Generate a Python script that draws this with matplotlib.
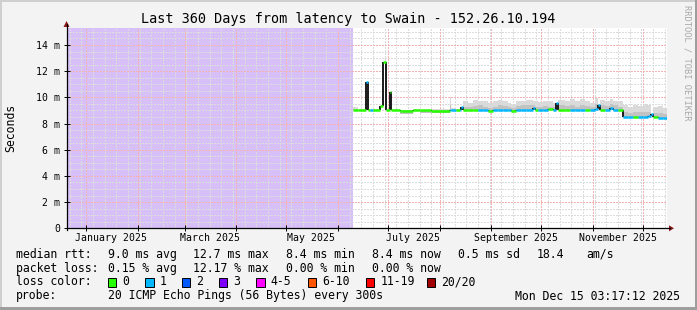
import numpy as np
import pandas as pd
import matplotlib
matplotlib.use('Agg')
import matplotlib.pyplot as plt
import matplotlib.dates as mdates
from matplotlib.collections import LineCollection
from matplotlib.patches import Rectangle, Polygon
from matplotlib.lines import Line2D

# ------------------------------------------------------------
# data (ms)
# ------------------------------------------------------------
end_time = pd.Timestamp('2025-12-15 03:17:12')
start_time = end_time - pd.Timedelta(days=360)
data_start = pd.Timestamp('2025-06-10')

step_dates = ['2025-06-10', '2025-06-13', '2025-06-18', '2025-06-19', '2025-06-20',
              '2025-06-22', '2025-06-26', '2025-06-28', '2025-06-30', '2025-07-02',
              '2025-07-03', '2025-07-08', '2025-07-16', '2025-07-20', '2025-07-27',
              '2025-08-07', '2025-08-08', '2025-08-11', '2025-08-13', '2025-08-14',
              '2025-08-15', '2025-08-18', '2025-08-21', '2025-08-24', '2025-08-27',
              '2025-08-30', '2025-09-02', '2025-09-05', '2025-09-08', '2025-09-11',
              '2025-09-13', '2025-09-16', '2025-09-19', '2025-09-22', '2025-09-26',
              '2025-09-27', '2025-09-29', '2025-10-02', '2025-10-05', '2025-10-08',
              '2025-10-10', '2025-10-11', '2025-10-15', '2025-10-18', '2025-10-21',
              '2025-10-24', '2025-10-27', '2025-10-30', '2025-11-02', '2025-11-04',
              '2025-11-05', '2025-11-08', '2025-11-11', '2025-11-13', '2025-11-16',
              '2025-11-19', '2025-11-22', '2025-11-25', '2025-11-28', '2025-12-01',
              '2025-12-04', '2025-12-06', '2025-12-07', '2025-12-10', '2025-12-13']

median_ms = [9.02, 9.02, 11.2, 9.02, 9.0,
             9.0, 9.36, 12.7, 9.0, 10.4,
             9.0, 8.97, 9.02, 9.0, 8.98,
             9.02, 9.0, 9.0, 9.05, 9.3,
             9.0, 9.0, 9.02, 9.0, 9.0,
             8.95, 9.0, 9.0, 9.02, 9.0,
             8.95, 9.0, 9.02, 9.0, 9.2,
             9.0, 9.0, 9.02, 9.1, 9.0,
             9.6, 9.0, 9.0, 9.02, 9.0,
             9.05, 9.0, 9.02, 9.1, 9.45,
             9.0, 9.05, 9.2, 9.02, 9.0,
             8.5, 8.48, 8.5, 8.48, 8.5,
             8.55, 8.7, 8.5, 8.45, 8.42]

loss_count = [0, 0, 1, 0, 1,
              0, 0, 0, 0, 0,
              0, 0, 0, 0, 0,
              1, 1, 0, 1, 1,
              0, 0, 0, 1, 1,
              0, 1, 1, 1, 1,
              0, 1, 1, 1, 1,
              0, 1, 1, 0, 1,
              1, 0, 0, 1, 1,
              1, 0, 1, 1, 1,
              0, 1, 1, 1, 0,
              1, 1, 0, 1, 1,
              1, 1, 0, 1, 1]

smoke_lo = [8.96, 8.98, 11.2, 8.98, 8.97,
            8.97, 9.36, 12.7, 8.97, 10.4,
            8.97, 8.75, 8.97, 8.8, 8.8,
            8.98, 8.97, 8.97, 9.0, 9.3,
            8.96, 8.96, 8.97, 8.96, 8.96,
            8.92, 8.96, 8.96, 8.97, 8.96,
            8.92, 8.96, 8.97, 8.96, 9.2,
            8.96, 8.96, 8.97, 9.05, 8.96,
            9.6, 8.96, 8.96, 8.97, 8.96,
            9.0, 8.96, 8.97, 9.05, 9.45,
            8.96, 9.0, 9.15, 8.97, 8.96,
            8.46, 8.44, 8.46, 8.44, 8.46,
            8.5, 8.7, 8.46, 8.41, 8.38]

smoke_hi = [9.3, 9.08, 11.2, 9.1, 9.08,
            9.1, 9.36, 12.7, 9.08, 10.4,
            9.08, 9.05, 9.1, 9.06, 9.08,
            10.05, 9.2, 9.15, 9.3, 9.3,
            9.75, 9.6, 9.8, 9.75, 9.7,
            9.55, 9.7, 9.8, 9.75, 9.6,
            9.5, 9.75, 9.7, 9.8, 9.75,
            9.7, 9.65, 9.75, 9.7, 9.6,
            9.6, 9.8, 9.75, 9.9, 9.7,
            9.85, 9.75, 9.6, 9.95, 9.45,
            9.8, 9.7, 9.85, 9.75, 9.7,
            9.45, 9.3, 9.45, 9.35, 9.5,
            9.4, 8.7, 9.3, 9.35, 9.2]

smoke_core = [9.1, 9.04, 11.2, 9.04, 9.03,
              9.03, 9.36, 12.7, 9.03, 10.4,
              9.03, 9.0, 9.04, 9.02, 9.02,
              9.4, 9.05, 9.05, 9.1, 9.3,
              9.3, 9.25, 9.35, 9.4, 9.3,
              9.2, 9.3, 9.45, 9.35, 9.25,
              9.2, 9.35, 9.4, 9.45, 9.4,
              9.3, 9.3, 9.35, 9.3, 9.3,
              9.6, 9.4, 9.35, 9.4, 9.3,
              9.45, 9.35, 9.3, 9.5, 9.45,
              9.4, 9.35, 9.5, 9.4, 9.3,
              8.9, 8.8, 8.9, 8.85, 8.9,
              8.85, 8.7, 8.8, 8.8, 8.7]

loss_labels = ['0', '1', '2', '3', '4-5', '6-10', '11-19', '20/20']
loss_colors = ['#26ff00', '#00b8ff', '#0059ff', '#7e00ff', '#ff00ff', '#ff5500', '#ff0000', '#a10000']

rtt_stats = ['9.0 ms avg', '12.7 ms max', '8.4 ms min', '8.4 ms now', '0.5 ms sd', '18.4', 'am/s']
loss_stats = ['0.15 % avg', '12.17 % max', '0.00 % min', '0.00 % now']

# ------------------------------------------------------------
# figure
# ------------------------------------------------------------
W, H = 697, 310
MONO = 'DejaVu Sans Mono'

fig = plt.figure(figsize=(W / 100, H / 100), dpi=100)
fig.patch.set_facecolor('#f3f3f3')


def fx(px):
    return px / W


def fy(py):
    return 1 - py / H


# 3D frame
fig.add_artist(Rectangle((0, 0), fx(2), 1, transform=fig.transFigure, color='#cfcfcf', lw=0))
fig.add_artist(Rectangle((0, fy(2)), 1, 2 / H, transform=fig.transFigure, color='#cfcfcf', lw=0))
fig.add_artist(Rectangle((fx(W - 2), 0), fx(2), 1, transform=fig.transFigure, color='#9e9e9e', lw=0))
fig.add_artist(Rectangle((0, 0), 1, 3 / H, transform=fig.transFigure, color='#9e9e9e', lw=0))

ax_left, ax_right, ax_top, ax_bot = 66.5, 666.5, 28, 228.3
ax = fig.add_axes([fx(ax_left), fy(ax_bot), (ax_right - ax_left) / W, (ax_bot - ax_top) / H])
ax.set_facecolor('white')
for s in ax.spines.values():
    s.set_visible(False)

x0 = mdates.date2num(start_time)
x1 = mdates.date2num(end_time)
ax.set_xlim(x0, x1)
ax.set_ylim(0, 15.3)

# unknown period
ax.axvspan(x0, mdates.date2num(data_start), color='#d7c0f8', lw=0, zorder=0.5)

# grid (dotted, like rrdtool)
grid_kw = dict(lw=1.0, dashes=(1, 1), zorder=1, antialiased=False)
for d in pd.date_range(start_time.normalize(), end_time, freq='W-SUN'):
    ax.axvline(mdates.date2num(d), color='#dcdcdc', **grid_kw)
for v in np.arange(0.5, 15.3, 0.5):
    if v % 2 != 0:
        ax.axhline(v, color='#dcdcdc', **grid_kw)
months = pd.date_range('2025-01-01', end_time, freq='MS')
for d in months:
    ax.axvline(mdates.date2num(d), color='#f4b4b4', **grid_kw)
for v in range(2, 15, 2):
    ax.axhline(v, color='#f4b4b4', **grid_kw)

# smoke
xs = mdates.date2num(pd.to_datetime(step_dates))
xs_ext = np.append(xs, x1)
lo_ext = np.append(smoke_lo, smoke_lo[-1])
hi_ext = np.append(smoke_hi, smoke_hi[-1])
core_ext = np.append(smoke_core, smoke_core[-1])
ax.fill_between(xs_ext, lo_ext, hi_ext, step='post', color='#dadada', lw=0, zorder=2)
ax.fill_between(xs_ext, lo_ext, core_ext, step='post', color='#c2c2c2', lw=0, zorder=2.1)

# median line coloured by loss
segs, cols = [], []
for i in range(len(xs)):
    segs.append([(xs_ext[i], median_ms[i]), (xs_ext[i + 1], median_ms[i])])
    cols.append(loss_colors[loss_count[i]])
ax.add_collection(LineCollection(segs, colors=cols, linewidths=1.8, zorder=3))
vsegs = [[(xs[i], median_ms[i - 1]), (xs[i], median_ms[i])] for i in range(1, len(xs))]
ax.add_collection(LineCollection(vsegs, colors='#1a1a1a', linewidths=1.4, zorder=2.9))

# ticks
ax.set_xticks(mdates.date2num(months))
ax.set_xticklabels([])
ax.tick_params(axis='x', which='major', length=4, direction='inout', width=0.7, color='black')
lab_months = pd.date_range('2025-01-01', end_time, freq='2MS') + pd.Timedelta(days=15)
ax.set_xticks(mdates.date2num(lab_months), minor=True)
ax.set_xticklabels([d.strftime('%B %Y') for d in lab_months], minor=True,
                   fontsize=7.1, family=MONO)
ax.tick_params(axis='x', which='minor', length=0, pad=3.5)

yt = list(range(0, 15, 2))
ax.set_yticks(yt)
ax.set_yticklabels(['0'] + [f'{v} m' for v in yt[1:]], fontsize=7.1, family=MONO)
ax.tick_params(axis='y', length=4, direction='inout', width=0.7, color='black', pad=2.5)

# axes with arrows
fig.add_artist(Line2D([fx(ax_left), fx(670)], [fy(ax_bot), fy(ax_bot)], transform=fig.transFigure,
                      color='black', lw=0.9))
fig.add_artist(Line2D([fx(ax_left), fx(ax_left)], [fy(ax_bot + 2), fy(24)], transform=fig.transFigure,
                      color='black', lw=0.9))
fig.add_artist(Polygon([(fx(669), fy(ax_bot - 3)), (fx(669), fy(ax_bot + 3)), (fx(674), fy(ax_bot))],
                       transform=fig.transFigure, color='#8b1a1a', lw=0))
fig.add_artist(Polygon([(fx(ax_left - 3), fy(27)), (fx(ax_left + 3), fy(27)), (fx(ax_left), fy(21))],
                       transform=fig.transFigure, color='#8b1a1a', lw=0))

# titles
fig.text(fx(348), fy(19.3), 'Last 360 Days from latency to Swain - 152.26.10.194',
         ha='center', va='center', fontsize=9.75, family=MONO)
fig.text(fx(10.3), fy(127.6), 'Seconds', rotation=90, ha='center', va='center',
         fontsize=8.3, family=MONO)
fig.text(fx(687), fy(5), 'RRDTOOL / TOBI OETIKER', rotation=270, ha='center', va='top',
         fontsize=6.3, family=MONO, color='#a8a8a8')

# legend
fs = 8.3
fig.text(fx(16), fy(254.3), 'median rtt:', va='center', fontsize=fs, family=MONO)
for px, s in zip([108, 193.3, 285.8, 372.4, 457.8, 536.9, 585.8], rtt_stats):
    fig.text(fx(px), fy(254.3), s, va='center', fontsize=fs, family=MONO)
fig.text(fx(16), fy(268.3), 'packet loss:', va='center', fontsize=fs, family=MONO)
for px, s in zip([108, 193.3, 285.8, 372.4], loss_stats):
    fig.text(fx(px), fy(268.3), s, va='center', fontsize=fs, family=MONO)
fig.text(fx(16), fy(281.7), 'loss color:', va='center', fontsize=fs, family=MONO)
for px, lab, c in zip([108, 145.3, 182, 219, 256.4, 307.6, 365.8, 426.7], loss_labels, loss_colors):
    fig.add_artist(Rectangle((fx(px), fy(286.7)), fx(8.4), 8.4 / H, transform=fig.transFigure,
                             facecolor=c, edgecolor='black', lw=0.7))
    fig.text(fx(px + 14.5), fy(281.7), lab, va='center', fontsize=fs, family=MONO)
fig.text(fx(16), fy(296), 'probe:', va='center', fontsize=fs, family=MONO)
fig.text(fx(108), fy(296), '20 ICMP Echo Pings (56 Bytes) every 300s', va='center', fontsize=fs, family=MONO)
fig.text(fx(680), fy(296), 'Mon Dec 15 03:17:12 2025', ha='right', va='center', fontsize=fs, family=MONO)

fig.savefig('out.png', dpi=100, facecolor=fig.get_facecolor())
